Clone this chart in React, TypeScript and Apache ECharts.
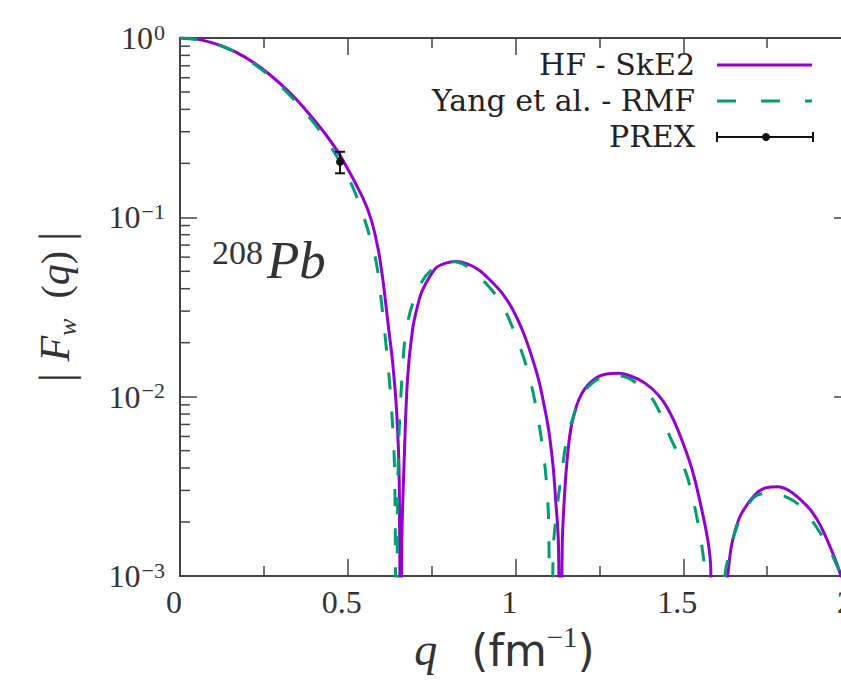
import React, { useEffect, useRef } from "react";
import * as echarts from "echarts";

// HF - SkE2 (solid purple): q (fm^-1) and |F_w(q)|
const qHF = [0, 0.035, 0.069, 0.12, 0.168, 0.22, 0.267, 0.32, 0.366, 0.436, 0.48, 0.544, 0.57, 0.591, 0.6047, 0.6118, 0.6222, 0.634, 0.646, 0.6534, 0.658, 0.661, 0.668, 0.678, 0.693, 0.708, 0.723, 0.762, 0.792, 0.822, 0.856, 0.891, 0.925, 0.96, 0.99, 1.02, 1.045, 1.069, 1.085, 1.099, 1.112, 1.119, 1.128, 1.134, 1.139, 1.143, 1.153, 1.168, 1.198, 1.247, 1.307, 1.345, 1.386, 1.426, 1.455, 1.485, 1.525, 1.554, 1.574, 1.582, 1.586, 1.61, 1.633, 1.643, 1.655, 1.673, 1.713, 1.745, 1.782, 1.815, 1.851, 1.882, 1.911, 1.95, 1.97, 1.99, 2.0];
const fHF = [1.0, 0.992, 0.97, 0.91, 0.831, 0.728, 0.626, 0.511, 0.415, 0.287, 0.217, 0.1295, 0.0968, 0.0659, 0.0448, 0.0349, 0.0237, 0.0154, 0.0081, 0.00343, 0.0001, 0.0015, 0.0043, 0.0124, 0.0236, 0.032, 0.0394, 0.052, 0.0555, 0.0567, 0.055, 0.0509, 0.0445, 0.0378, 0.031, 0.0236, 0.0175, 0.0124, 0.009, 0.0065, 0.0041, 0.00277, 0.0015, 0.0001, 0.0014, 0.00223, 0.00425, 0.0071, 0.01045, 0.01294, 0.0135, 0.013, 0.0119, 0.0102, 0.0085, 0.00646, 0.004, 0.0024, 0.00155, 0.0011, 0.0001, 0.0005, 0.00103, 0.00145, 0.0018, 0.00222, 0.00283, 0.0031, 0.00315, 0.003, 0.00265, 0.0023, 0.00188, 0.00128, 0.001, 0.0007, 0.0006];

// Yang et al. - RMF (dashed green)
const qRMF = [0, 0.069, 0.12, 0.168, 0.22, 0.267, 0.3, 0.347, 0.4, 0.45, 0.505, 0.544, 0.579, 0.591, 0.599, 0.614, 0.63, 0.64, 0.645, 0.65, 0.663, 0.678, 0.713, 0.75, 0.802, 0.85, 0.921, 0.96, 0.99, 1.03, 1.059, 1.084, 1.094, 1.099, 1.105, 1.112, 1.119, 1.138, 1.158, 1.203, 1.245, 1.287, 1.337, 1.38, 1.416, 1.465, 1.49, 1.515, 1.544, 1.564, 1.57, 1.595, 1.62, 1.628, 1.663, 1.693, 1.723, 1.762, 1.8, 1.851, 1.921, 1.96, 1.98, 2.0];
const fRMF = [1.0, 0.969, 0.908, 0.826, 0.718, 0.613, 0.539, 0.438, 0.334, 0.247, 0.162, 0.1054, 0.0631, 0.0478, 0.0355, 0.0195, 0.0089, 0.00355, 0.0001, 0.004, 0.0141, 0.0257, 0.041, 0.051, 0.0567, 0.054, 0.041, 0.0325, 0.0246, 0.0153, 0.0092, 0.00468, 0.003, 0.0019, 0.0001, 0.0013, 0.002, 0.0038, 0.0063, 0.0105, 0.0125, 0.0132, 0.0127, 0.011, 0.0092, 0.00573, 0.00457, 0.00343, 0.00196, 0.00112, 0.0008, 0.0001, 0.0008, 0.00112, 0.00196, 0.0025, 0.00283, 0.00289, 0.0028, 0.00243, 0.00159, 0.00112, 0.0009, 0.0007];

// PREX measurement
const prexQ = [0.477];
const prexF = [0.204];
const prexErr = [0.028];

const yMinorTicks = [0.002, 0.003, 0.004, 0.005, 0.006, 0.007, 0.008, 0.009, 0.02, 0.03, 0.04, 0.05, 0.06, 0.07, 0.08, 0.09, 0.2, 0.3, 0.4, 0.5, 0.6, 0.7, 0.8, 0.9];
const seriesNames = ["HF - SkE2", "Yang et al. - RMF", "PREX"];

const SERIF = "'Liberation Serif', 'Times New Roman', serif";
const LEGEND_SERIF = "'DejaVu Serif', 'Liberation Serif', serif";
const SANS = "'DejaVu Sans', 'Liberation Sans', sans-serif";
const AXIS = "#444";
const PURPLE = "#9400d3";
const GREEN = "#009e73";

export default function App() {
  const ref = useRef<HTMLDivElement>(null);
  useEffect(() => {
    const chart = echarts.init(ref.current!, null, { renderer: "svg" });
    const xAxisBase = {
      type: "value",
      min: 0,
      max: 2,
      interval: 0.5,
      axisLine: { show: true, onZero: false, lineStyle: { color: AXIS, width: 2 } },
      axisTick: { show: true, inside: true, length: 17, lineStyle: { color: AXIS, width: 1.5 } },
      minorTick: { show: true, splitNumber: 2, length: 10, lineStyle: { color: AXIS, width: 1.5 } },
      splitLine: { show: false },
    };
    const yAxisBase = {
      type: "log",
      logBase: 10,
      min: 0.001,
      max: 1,
      interval: 1,
      axisLine: { show: true, onZero: false, lineStyle: { color: AXIS, width: 2 } },
      axisTick: { show: true, inside: true, length: 17, lineStyle: { color: AXIS, width: 1.5 } },
      splitLine: { show: false },
    };
    const legendText = (text: string, y: number) => ({
      type: "text",
      x: 695,
      y,
      style: { text, font: `30px ${LEGEND_SERIF}`, lineHeight: 32, fill: "#222", align: "right", verticalAlign: "middle" },
    });
    const option: any = {
      animation: false,
      backgroundColor: "#fff",
      grid: { left: 180, top: 38, right: 2, bottom: 111, containLabel: false },
      xAxis: [
        {
          ...xAxisBase,
          position: "bottom",
          name: "{q|q}{p|(fm}{s|−1}{p|)}",
          nameLocation: "middle",
          nameGap: 43,
          nameTextStyle: {
            padding: [0, 22, 0, 0],
            rich: {
              q: { fontFamily: SERIF, fontStyle: "italic", fontSize: 46, color: "#333", lineHeight: 50, verticalAlign: "bottom", padding: [0, 34, 0, 0] },
              p: { fontFamily: SANS, fontSize: 44, color: "#333", lineHeight: 50, verticalAlign: "bottom" },
              s: { fontFamily: SERIF, fontSize: 29, color: "#333", lineHeight: 27, verticalAlign: "top" },
            },
          },
          axisLabel: {
            show: true,
            margin: 10,
            fontFamily: SERIF,
            fontSize: 32,
            color: "#333",
            padding: [0, 12, 0, 0],
            formatter: (v: number) => String(v),
          },
        },
        { ...xAxisBase, position: "top", axisLabel: { show: false } },
      ],
      yAxis: [
        {
          ...yAxisBase,
          position: "left",
          name: "{b|| }{f|F}{w|w}{n|  (}{f|q}{n|) }{b||}",
          nameLocation: "middle",
          nameRotate: 90,
          nameGap: 100,
          nameTextStyle: {
            rich: {
              b: { fontFamily: SERIF, fontSize: 46, color: "#333", lineHeight: 50 },
              f: { fontFamily: SERIF, fontStyle: "italic", fontSize: 42, color: "#333", lineHeight: 50 },
              w: { fontFamily: SERIF, fontStyle: "italic", fontSize: 26, color: "#333", lineHeight: 50, verticalAlign: "bottom" },
              n: { fontFamily: SERIF, fontSize: 40, color: "#333", lineHeight: 50 },
            },
          },
          axisLabel: {
            show: true,
            margin: 15,
            formatter: (v: number) => {
              const e = Math.round(Math.log10(v));
              return "{b|10}{s|" + (e < 0 ? "−" + -e : String(e)) + "}";
            },
            rich: {
              b: { fontFamily: SERIF, fontSize: 32, color: "#333", lineHeight: 34 },
              s: { fontFamily: SERIF, fontSize: 22, color: "#333", lineHeight: 22, verticalAlign: "top", padding: [0, 0, 0, 1] },
            },
          },
        },
        { ...yAxisBase, position: "right", axisLabel: { show: false } },
      ],
      series: [
        {
          name: seriesNames[0],
          type: "line",
          xAxisIndex: 0,
          yAxisIndex: 0,
          data: qHF.map((q, i) => [q, fHF[i]]),
          showSymbol: false,
          symbol: "none",
          smooth: 0.35,
          clip: true,
          lineStyle: { color: PURPLE, width: 3 },
          z: 2,
        },
        {
          name: seriesNames[1],
          type: "line",
          xAxisIndex: 0,
          yAxisIndex: 0,
          data: qRMF.map((q, i) => [q, fRMF[i]]),
          showSymbol: false,
          symbol: "none",
          smooth: 0.35,
          clip: true,
          lineStyle: { color: GREEN, width: 3, type: [17, 22] },
          z: 3,
        },
        {
          name: seriesNames[2],
          type: "custom",
          xAxisIndex: 0,
          yAxisIndex: 0,
          data: prexQ.map((q, i) => [q, prexF[i], prexErr[i]]),
          encode: { x: 0, y: 1 },
          z: 4,
          renderItem: (_p: any, api: any) => {
            const x = api.value(0);
            const y = api.value(1);
            const e = api.value(2);
            const c = api.coord([x, y]);
            const lo = api.coord([x, y - e]);
            const hi = api.coord([x, y + e]);
            const st = { stroke: "#111", lineWidth: 2 };
            return {
              type: "group",
              children: [
                { type: "line", shape: { x1: c[0], y1: lo[1], x2: c[0], y2: hi[1] }, style: st },
                { type: "line", shape: { x1: c[0] - 5, y1: lo[1], x2: c[0] + 5, y2: lo[1] }, style: st },
                { type: "line", shape: { x1: c[0] - 5, y1: hi[1], x2: c[0] + 5, y2: hi[1] }, style: st },
                { type: "circle", shape: { cx: c[0], cy: c[1], r: 4 }, style: { fill: "#111" } },
              ],
            };
          },
        },
        {
          name: "minorTicksY",
          type: "custom",
          xAxisIndex: 0,
          yAxisIndex: 0,
          silent: true,
          clip: false,
          data: yMinorTicks.map((v) => [0, v]),
          encode: { x: 0, y: 1 },
          renderItem: (_p: any, api: any) => {
            const v = api.value(1);
            const a = api.coord([0, v]);
            const b = api.coord([2, v]);
            const st = { stroke: AXIS, lineWidth: 1.5 };
            return {
              type: "group",
              children: [
                { type: "line", shape: { x1: a[0], y1: a[1], x2: a[0] + 10, y2: a[1] }, style: st },
                { type: "line", shape: { x1: b[0] - 10, y1: b[1], x2: b[0], y2: b[1] }, style: st },
              ],
            };
          },
        },
      ],
      graphic: [
        // legend
        legendText(seriesNames[0], 64),
        { type: "line", shape: { x1: 717, y1: 65, x2: 812, y2: 65 }, style: { stroke: PURPLE, lineWidth: 3 } },
        legendText(seriesNames[1], 100),
        { type: "line", shape: { x1: 717, y1: 101, x2: 812, y2: 101 }, style: { stroke: GREEN, lineWidth: 3, lineDash: [19, 25] } },
        legendText(seriesNames[2], 136),
        { type: "line", shape: { x1: 717, y1: 137, x2: 813, y2: 137 }, style: { stroke: "#111", lineWidth: 2 } },
        { type: "line", shape: { x1: 717, y1: 132, x2: 717, y2: 142 }, style: { stroke: "#111", lineWidth: 2 } },
        { type: "line", shape: { x1: 813, y1: 132, x2: 813, y2: 142 }, style: { stroke: "#111", lineWidth: 2 } },
        { type: "circle", shape: { cx: 766, cy: 137, r: 4 }, style: { fill: "#111" } },
        // nucleus label
        {
          type: "text",
          x: 212,
          y: 260,
          style: {
            text: "{s|208}{p|Pb}",
            verticalAlign: "middle",
            rich: {
              s: { fontFamily: SERIF, fontSize: 34, fill: "#333", lineHeight: 30, verticalAlign: "top" },
              p: { fontFamily: SERIF, fontStyle: "italic", fontSize: 53, fill: "#333", lineHeight: 50, padding: [0, 0, 0, 4] },
            },
          },
        },
      ],
    };
    chart.setOption(option);
    return () => chart.dispose();
  }, []);
  return (
    <div style={{ position: "absolute", left: 0, top: 0, width: 841, height: 687, overflow: "hidden", background: "#fff" }}>
      <div ref={ref} style={{ width: 856, height: 687 }} />
    </div>
  );
}
